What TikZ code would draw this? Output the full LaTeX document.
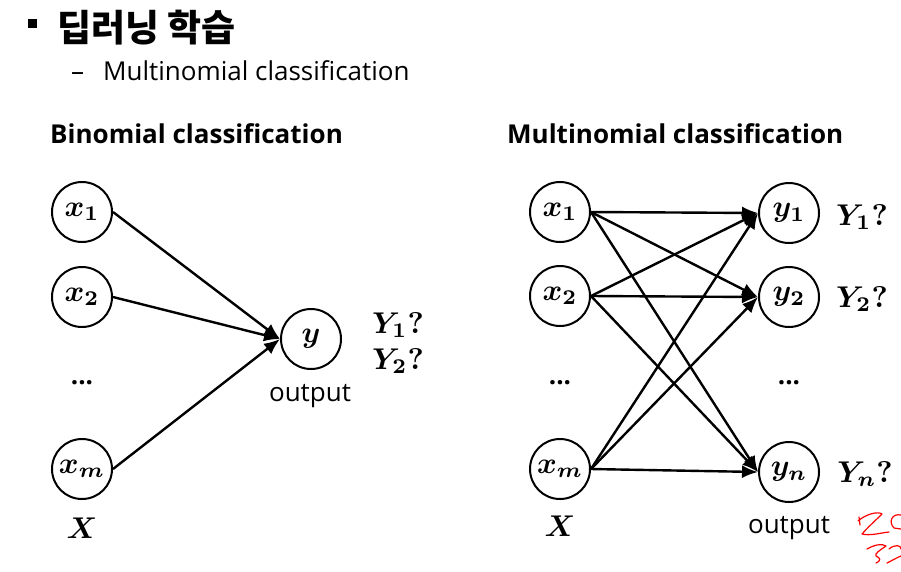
\documentclass[tikz,border=0pt]{standalone}
\usepackage{fontspec}
\setmainfont{Open Sans}
\newfontfamily\korfont{Noto Sans CJK KR}
\usepackage{bm}
\usetikzlibrary{arrows.meta}

\newcommand{\bmath}[1]{\scalebox{3}{\fontsize{10}{10}\selectfont$\bm{#1}$}}
\newcommand{\txtsz}{\fontsize{26}{26}\selectfont}

\tikzset{
  neuron/.style={circle,draw,line width=2pt,minimum size=60pt,inner sep=0pt},
  conn/.style={line width=2.4pt,-{Latex[length=16pt,width=13pt]}},
  tlabel/.style={font=\txtsz},
  head/.style={font=\txtsz\bfseries,anchor=base west},
  scrib/.style={red,line width=1.2pt,line cap=round,line join=round}
}

\begin{document}
\begin{tikzpicture}[x=1pt,y=-1pt]
\useasboundingbox (0,0) rectangle (901,571);

%title
\fill (28,19) rectangle (37,28);
\node[anchor=base west,inner sep=0pt,font=\fontsize{37}{37}\selectfont\korfont\bfseries] (title) at (57,41) {딥러닝 학습};
\node[anchor=base west,inner sep=0pt,tlabel] (dash) at (71,80) {–};
\node[anchor=base west,inner sep=0pt,tlabel] (sub) at (103,80) {Multinomial classification};

%binomial
\node[head,inner sep=0pt] (bhead) at (50,143) {Binomial classification};
\node[neuron] (bx1) at (82,212) {\bmath{x_1}};
\node[neuron] (bx2) at (82,297) {\bmath{x_2}};
\node[tlabel] (bdots) at (82,383) {\textbf{...}};
\node[neuron] (bxm) at (82,469) {\bmath{x_m}};
\node (bX) at (82,528) {\bmath{X}};
\node[neuron] (by) at (311,339) {\bmath{y}};
\node[tlabel] (bout) at (310,396) {output};
\node (bY1) at (398,325) {\bmath{Y_1?}};
\node (bY2) at (398,361) {\bmath{Y_2?}};

\draw[conn] (bx1.east) -- (by.west);
\draw[conn] (bx2.east) -- (by.west);
\draw[conn] (bxm.east) -- (by.west);

%multinomial
\node[head,inner sep=0pt] (mhead) at (507,143) {Multinomial classification};
\node[neuron] (mx1) at (560,212) {\bmath{x_1}};
\node[neuron] (mx2) at (560,296) {\bmath{x_2}};
\node[tlabel] (mxdots) at (560,383) {\textbf{...}};
\node[neuron] (mxm) at (560,469) {\bmath{x_m}};
\node (mX) at (560,526) {\bmath{X}};
\node[neuron] (my1) at (789,213) {\bmath{y_1}};
\node[neuron] (my2) at (789,297) {\bmath{y_2}};
\node[tlabel] (mydots) at (789,383) {\textbf{...}};
\node[neuron] (myn) at (789,472) {\bmath{y_n}};
\node[tlabel] (mout) at (789,528) {output};
\node (mY1) at (862,217) {\bmath{Y_1?}};
\node (mY2) at (862,299) {\bmath{Y_2?}};
\node (mYn) at (865,474) {\bmath{Y_n?}};

\foreach \i in {x1,x2,xm}
  \foreach \j in {y1,y2,yn}
    \draw[conn] (m\i.east) -- (m\j.west);

%scribble
\draw[scrib]
  (858,521) .. controls (866,514) and (878,511) .. (882,514)
  .. controls (876,520) and (868,527) .. (862,534)
  .. controls (870,536) and (880,533) .. (889,532);
\draw[scrib] (859,517) -- (860,525);
\draw[scrib]
  (901,515) .. controls (892,513) and (888,522) .. (894,528) -- (901,529);
\draw[scrib]
  (867,549) .. controls (874,545) and (882,543) .. (886,546)
  .. controls (880,550) and (874,554) .. (876,556)
  .. controls (880,558) and (882,560) .. (876,563);
\draw[scrib]
  (889,549) .. controls (895,544) and (901,545) .. (901,549);
\draw[scrib]
  (887,563) .. controls (893,560) and (898,557) .. (901,556);
\end{tikzpicture}
\end{document}
